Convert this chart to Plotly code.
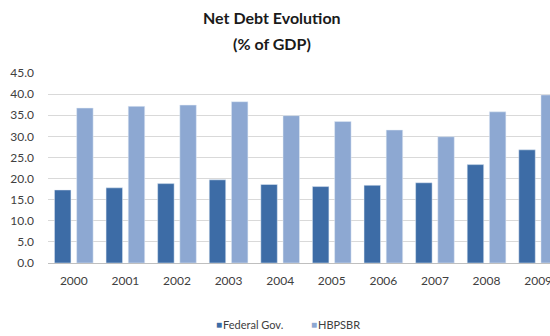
import plotly.graph_objects as go

years = ["2000", "2001", "2002", "2003", "2004", "2005", "2006", "2007", "2008", "2009"]
federal_gov = [17.3, 17.8, 18.8, 19.7, 18.6, 18.1, 18.4, 19.0, 23.3, 26.8]
hbpsbr = [36.7, 37.1, 37.4, 38.2, 34.9, 33.5, 31.5, 29.9, 35.8, 39.8]
y_ticks = [0, 5, 10, 15, 20, 25, 30, 35, 40, 45]
title_lines = ["Net Debt Evolution", "(% of GDP)"]
colors = ["#3D6CA6", "#8DA8D2"]
names = ["Federal Gov.", "HBPSBR"]

fig = go.Figure()
fig.add_trace(go.Bar(x=years, y=federal_gov, name=names[0], marker_color=colors[0]))
fig.add_trace(go.Bar(x=years, y=hbpsbr, name=names[1], marker_color=colors[1]))

fig.update_layout(
    width=550, height=336,
    margin=dict(l=48, r=0, t=73, b=73, autoexpand=False),
    paper_bgcolor="white", plot_bgcolor="white",
    barmode="group", bargap=0.14, bargroupgap=0.257,
    font=dict(family="Lato", color="#595959", size=12),
    showlegend=False,
)

for txt, yy in zip(title_lines, [18, 44]):
    fig.add_annotation(text="<b>%s</b>" % txt, xref="paper", yref="paper",
                       x=(272 - 48) / 502, y=(262.7 - yy) / 189.4, showarrow=False,
                       xanchor="center", yanchor="middle",
                       font=dict(family="Lato", size=16, color="#1a1a1a"))

leg_y = (262.7 - 324) / 189.4
for name, col, xs in zip(names, colors, [214, 309]):
    fig.add_annotation(text="■", xref="paper", yref="paper", x=(xs - 48) / 502, y=leg_y,
                       showarrow=False, xanchor="left", yanchor="middle",
                       font=dict(size=10, color=col))
    fig.add_annotation(text=name, xref="paper", yref="paper", x=(xs + 7 - 48) / 502, y=leg_y,
                       showarrow=False, xanchor="left", yanchor="middle",
                       font=dict(size=11, color="#404040"))

fig.update_xaxes(type="category", range=[-0.5, 9.23], showgrid=False, showline=False, automargin=False,
                 ticks="", tickfont=dict(size=12, color="#404040"), ticklabelstandoff=9)
fig.update_yaxes(range=[0, 45], tickvals=y_ticks, tickformat=".1f", showgrid=True, automargin=False,
                 gridcolor="#D9D9D9", gridwidth=1, zeroline=True, zerolinecolor="#BFBFBF",
                 zerolinewidth=1, showline=False, ticks="", ticklabelstandoff=13,
                 tickfont=dict(size=12, color="#404040"))

fig.write_html("out.html")
